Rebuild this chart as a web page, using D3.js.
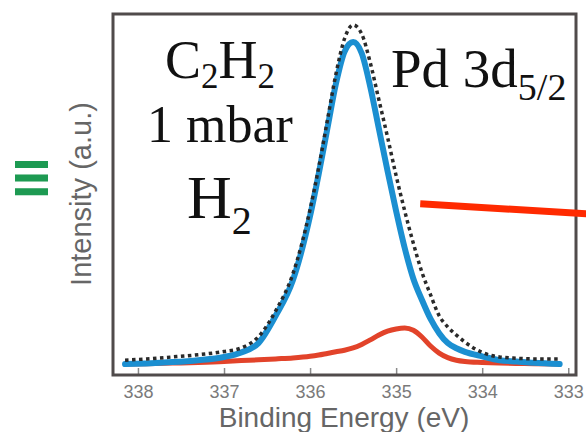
<!DOCTYPE html>
<html>
<head>
<meta charset="utf-8">
<script src="https://cdn.jsdelivr.net/npm/d3@7"></script>
<style>
  html, body { margin: 0; padding: 0; background: #fff; }
  svg { display: block; }
</style>
</head>
<body>
<svg id="chart" width="586" height="432"></svg>
<script>
// ---- data ----
const energy = [338.15, 337.9, 337.6, 337.3, 337.0, 336.8, 336.6, 336.4, 336.2, 336.0,
  335.9, 335.8, 335.7, 335.6, 335.5, 335.4, 335.3, 335.2, 335.1, 335.0,
  334.9, 334.8, 334.7, 334.6, 334.5, 334.4, 334.3, 334.2, 334.0, 333.8,
  333.6, 333.4, 333.1];
const measured = [1.2, 1.6, 2.2, 2.9, 3.9, 5.0, 8.5, 16.5, 28, 48,
  61, 75.5, 90, 101, 105.3, 102.5, 93.5, 82, 70.5, 58.5,
  47.5, 37.5, 28.5, 21.5, 15, 11.5, 9, 6.8, 3.6, 2.2,
  1.8, 1.6, 1.6];
const pdMetal = [0, 0.2, 0.6, 1.2, 2.2, 3.6, 6.5, 15, 26, 46,
  59, 73, 87, 97, 100, 96.5, 86, 73, 60, 47.5,
  36, 26.5, 19.9, 14, 9.6, 6.5, 4.9, 3.8, 2.4, 1.2,
  0.8, 0.4, 0];
const pdCarbide = [0, 0.1, 0.3, 0.5, 0.8, 1.1, 1.3, 1.6, 1.9, 2.4,
  2.8, 3.3, 3.8, 4.3, 5.0, 6.1, 7.5, 9.0, 10.2, 10.9,
  11.2, 10.5, 8.4, 5.6, 3.4, 2.0, 1.2, 0.8, 0.5, 0.3,
  0.2, 0.1, 0];
const xTicks = [338, 337, 336, 335, 334, 333];
const xTitle = "Binding Energy (eV)";
const yTitle = "Intensity (a.u.)";
// annotation pointer line (data coordinates)
const pointerEnergy = [334.72, 332.63];
const pointerValue = [49.8, 46.4];

// ---- layout ----
const svg = d3.select("#chart");
const frame = {left: 113, right: 576, top: 14, bottom: 375};

const x = d3.scaleLinear().domain([338.29, 332.91]).range([frame.left, frame.right]);
const y = d3.scaleLinear().domain([-3.4, 108.7]).range([frame.bottom, frame.top]);

// axis ticks (inward) + labels
const axis = d3.axisBottom(x).tickValues(xTicks).tickSize(-7).tickPadding(12)
  .tickFormat(d3.format("d"));
const gx = svg.append("g").attr("transform", `translate(0,${frame.bottom})`).call(axis);
gx.select(".domain").remove();
gx.selectAll(".tick line").attr("stroke", "#8a8a8a").attr("stroke-width", 1.5);
gx.selectAll(".tick text")
  .attr("font-family", "'Liberation Sans', Arial, sans-serif")
  .attr("font-size", 18)
  .attr("fill", "#7a7a7a")
  .attr("y", 23).attr("dy", null);

// axis titles
svg.append("text")
  .attr("x", 344).attr("y", 427)
  .attr("text-anchor", "middle")
  .attr("font-family", "'Liberation Sans', Arial, sans-serif")
  .attr("font-size", 28).attr("fill", "#666")
  .text(xTitle);
svg.append("text")
  .attr("transform", "translate(91,194) rotate(-90)")
  .attr("text-anchor", "middle")
  .attr("font-family", "'Liberation Sans', Arial, sans-serif")
  .attr("font-size", 29).attr("fill", "#666")
  .text(yTitle);

// green panel mark
svg.append("text")
  .attr("transform", "translate(48,178) rotate(-90)")
  .attr("text-anchor", "middle")
  .attr("font-family", "'Liberation Sans', Arial, sans-serif")
  .attr("font-weight", "bold")
  .attr("font-size", 49).attr("fill", "#1d9a52")
  .text("III");

// curves
const rows = energy.map((e, i) => ({e, m: measured[i], a: pdMetal[i], b: pdCarbide[i]}));
const lineOf = key => d3.line().x(d => x(d.e)).y(d => y(d[key])).curve(d3.curveMonotoneX);

svg.append("path").datum(rows).attr("d", lineOf("b"))
  .attr("fill", "none").attr("stroke", "#e2432a").attr("stroke-width", 5)
  .attr("stroke-linecap", "round").attr("stroke-linejoin", "round");
svg.append("path").datum(rows).attr("d", lineOf("a"))
  .attr("fill", "none").attr("stroke", "#1b8fd1").attr("stroke-width", 6)
  .attr("stroke-linecap", "round").attr("stroke-linejoin", "round");
svg.append("path").datum(rows).attr("d", lineOf("m"))
  .attr("fill", "none").attr("stroke", "#2a2a2a").attr("stroke-width", 3.5)
  .attr("stroke-dasharray", "3.5,3.5");

// frame
svg.append("rect")
  .attr("x", frame.left).attr("y", frame.top)
  .attr("width", frame.right - frame.left).attr("height", frame.bottom - frame.top)
  .attr("fill", "none").attr("stroke", "#504b4b").attr("stroke-width", 3);

// serif labels
const serif = "'Liberation Serif', 'Times New Roman', serif";
const t1 = svg.append("text").attr("x", 165).attr("y", 78)
  .attr("font-family", serif).attr("font-size", 54).attr("fill", "#111");
t1.append("tspan").text("C");
t1.append("tspan").attr("dy", 10).attr("font-size", 35).text("2");
t1.append("tspan").attr("dy", -10).text("H");
t1.append("tspan").attr("dy", 10).attr("font-size", 35).text("2");

svg.append("text").attr("x", 147).attr("y", 142)
  .attr("font-family", serif).attr("font-size", 52).attr("fill", "#111")
  .text("1 mbar");

const t3 = svg.append("text").attr("x", 187).attr("y", 218)
  .attr("font-family", serif).attr("font-size", 62).attr("fill", "#111");
t3.append("tspan").text("H");
t3.append("tspan").attr("dy", 16).attr("font-size", 40).text("2");

const t4 = svg.append("text").attr("x", 391).attr("y", 87)
  .attr("font-family", serif).attr("font-size", 55).attr("fill", "#111");
t4.append("tspan").text("Pd 3d");
t4.append("tspan").attr("dy", 13).attr("font-size", 38).text("5/2");

// pointer line
svg.append("line")
  .attr("x1", x(pointerEnergy[0])).attr("y1", y(pointerValue[0]))
  .attr("x2", x(pointerEnergy[1])).attr("y2", y(pointerValue[1]))
  .attr("stroke", "#ff2a00").attr("stroke-width", 7);
</script>
</body>
</html>
